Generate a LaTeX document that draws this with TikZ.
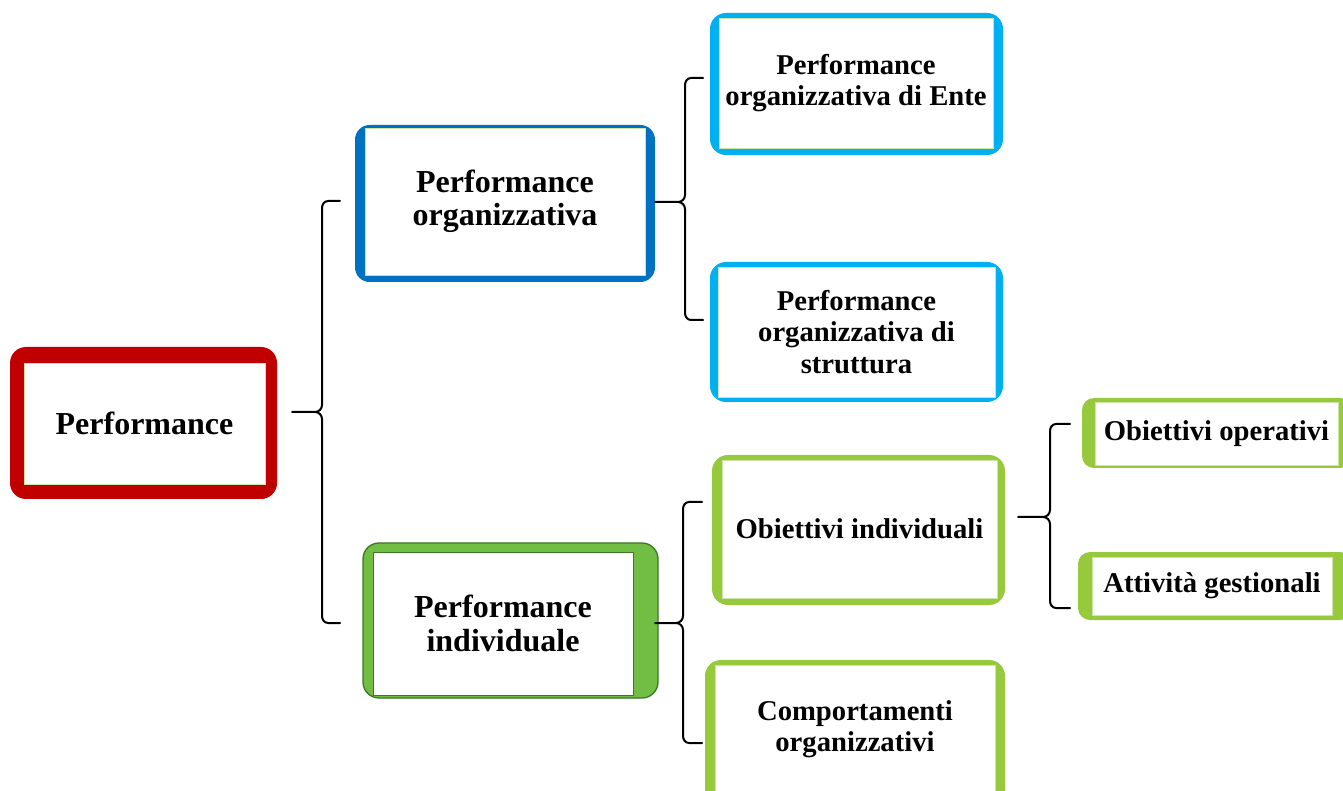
\documentclass[tikz,border=0pt]{standalone}
\usepackage{fontspec}
\setmainfont{Liberation Serif}
\definecolor{redc}{RGB}{192,0,0}
\definecolor{bluec}{RGB}{0,112,192}
\definecolor{lbluec}{RGB}{0,176,240}
\definecolor{indfill}{RGB}{114,190,68}
\definecolor{indline}{RGB}{60,120,40}
\definecolor{greenc}{RGB}{150,202,60}
\definecolor{innerline}{RGB}{205,228,170}
% #1 spine x, #2 tip x, #3 top y, #4 tip y, #5 bottom y, #6 arm end x, #7 name
\newcommand{\mybrace}[7]{%
  \coordinate (#7-tip) at (#2,#4);
  \coordinate (#7-top) at (#6,#3);
  \coordinate (#7-bot) at (#6,#5);
  \draw[bracestyle] (#7-top) -- (#1+6,#3) to[out=180,in=90] (#1,#3+7) -- (#1,#4-7) to[out=-90,in=0] (#1-7,#4) -- (#7-tip);
  \draw[bracestyle] (#1-7,#4) to[out=0,in=90] (#1,#4+7) -- (#1,#5-7) to[out=-90,in=180] (#1+6,#5) -- (#7-bot);
}
\begin{document}
\begin{tikzpicture}[x=0.75pt,y=-0.75pt,
  innerbox/.style 2 args={draw=innerline, line width=0.7pt, fill=white, inner sep=0pt, align=center,
    minimum width=#1, minimum height=#2,
    font=\bfseries\fontsize{24}{25}\selectfont},
  smalltext/.style={font=\bfseries\fontsize{21.5}{23.5}\selectfont},
  bracestyle/.style={line width=1.5pt, line cap=round, line join=round}]
\useasboundingbox (0,0) rectangle (1343,791);
\clip (0,0) rectangle (1343,791);
\fill[white] (0,0) rectangle (1343,791);

% Root
\fill[redc, rounded corners=12pt] (10,347) rectangle (277,499);
\node[innerbox={180.75pt}{90.75pt}] (root) at (144.5,423.5) {Performance};

% Level 2
\fill[bluec, rounded corners=11pt] (355,125) rectangle (655,282);
\node[innerbox={210pt}{110.25pt}] (org) at (505,201.5) {Performance\\organizzativa};

\filldraw[fill=indfill, draw=indline, line width=1pt, rounded corners=12pt] (363,543) rectangle (658,698);
\node[innerbox={195pt}{107.25pt}, draw=indline] (ind) at (503,623.5) {Performance\\individuale};

% Level 3 (blue)
\fill[lbluec, rounded corners=12pt] (710,13) rectangle (1003,155);
\node[innerbox={205.5pt}{97.5pt}, smalltext] (ente) at (856,83) {Performance\\organizzativa di Ente};

\fill[lbluec, rounded corners=12pt] (710,262) rectangle (1003,402);
\node[innerbox={207.75pt}{97.5pt}, smalltext] (strut) at (856.5,332) {Performance\\organizzativa di\\struttura};

% Level 3 (green)
\fill[greenc, rounded corners=12pt] (712,455) rectangle (1005,605);
\node[innerbox={206.25pt}{103.5pt}, smalltext] (obind) at (859.5,529) {Obiettivi individuali};

\fill[greenc, rounded corners=12pt] (705,660) rectangle (1005,805);
\node[innerbox={210pt}{96pt}, smalltext] (comp) at (855,729) {Comportamenti\\organizzativi};

% Level 4
\fill[greenc, rounded corners=9pt] (1082,398) rectangle (1352,468);
\node[innerbox={182.25pt}{47.25pt}, smalltext] (obop) at (1216.5,433.5) {Obiettivi operativi};

\fill[greenc, rounded corners=9pt] (1078,552) rectangle (1352,620);
\node[innerbox={180pt}{43.5pt}, smalltext] (att) at (1212,586) {Attività gestionali};

% Braces
\mybrace{322}{292}{201}{412}{623}{340}{bA}
\mybrace{685}{655}{78}{202}{320}{703}{bB}
\mybrace{683}{655}{502}{623}{743}{702}{bC}
\mybrace{1050}{1018}{424}{517}{608}{1070}{bD}
\end{tikzpicture}
\end{document}
